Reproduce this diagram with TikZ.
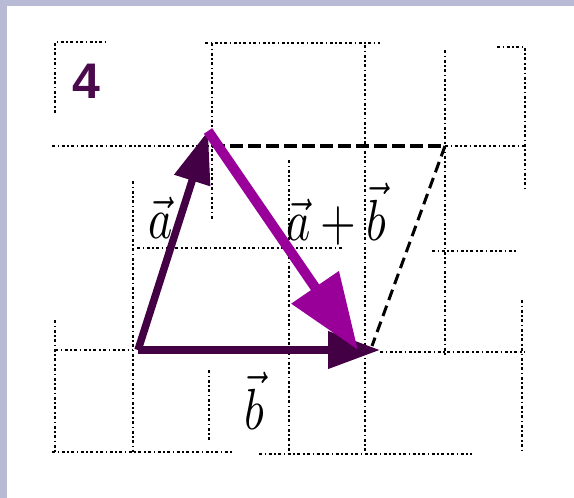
\documentclass[tikz,border=0pt]{standalone}
\usepackage{fontspec}
\newfontfamily\numfont{Liberation Sans}
\usetikzlibrary{arrows.meta}
\definecolor{lav}{RGB}{184,186,214}
\definecolor{dpurple}{RGB}{68,0,68}
\definecolor{mpurple}{RGB}{153,0,153}
\definecolor{numcol}{RGB}{75,10,75}
\tikzset{
  gridline/.style={line width=2pt, black, dash pattern=on 3pt off 2.5pt on 1.6pt off 2.5pt},
  heavydash/.style={line width=3.5pt, black, dash pattern=on 13pt off 5pt},
  vecdark/.style={line width=7.5pt, dpurple, -{Triangle[length=52pt,width=36pt]}},
  vecsum/.style={line width=10pt, mpurple, -{Triangle[length=76pt,width=55pt]}},
  mathlabel/.style={anchor=base west, inner sep=0pt}
}
\newcommand{\biglab}[1]{\scalebox{4.6}[5.8]{$#1$}}
\begin{document}
\begin{tikzpicture}[x=1pt,y=-1pt]
\useasboundingbox (0,0) rectangle (574,498);
\fill[white] (0,0) rectangle (574,498);
\fill[lav] (0,0) rectangle (574,6);
\fill[lav] (0,0) rectangle (7,498);
% grid
\draw[gridline] (55,113) -- (55,42) -- (105,42);
\draw[gridline] (205,43) -- (380,43);
\draw[gridline] (497,47) -- (525,47) -- (525,190);
\draw[gridline] (52,146) -- (212,146);
\draw[gridline] (445,146) -- (525,146);
\draw[gridline] (137,248) -- (342,248);
\draw[gridline] (432,251) -- (517,251);
\draw[gridline] (55,350) -- (133,350);
\draw[gridline] (380,352) -- (525,352);
\draw[gridline] (52,452) -- (232,452);
\draw[gridline] (259,454) -- (472,454);
\draw[gridline] (55,320) -- (55,452);
\draw[gridline] (133,181) -- (133,452);
\draw[gridline] (212,43) -- (212,220);
\draw[gridline] (209,370) -- (209,440);
\draw[gridline] (289,160) -- (289,452);
\draw[gridline] (365,45) -- (365,452);
\draw[gridline] (445,50) -- (445,355);
\draw[gridline] (522,300) -- (522,452);
% points
\coordinate (O) at (138,350);
\coordinate (A) at (208,131);
\coordinate (B) at (380,350);
\coordinate (S) at (358,350);
\coordinate (C) at (445,146);
\coordinate (D) at (372,346);
% dashed parallelogram sides
\draw[heavydash] (212,146) -- (C);
\draw[line width=3pt, black, dash pattern=on 11pt off 6pt] (C) -- (D);
% labels
\node[anchor=base west, inner sep=0pt, text=numcol, font=\numfont\bfseries\fontsize{50}{50}\selectfont] (num) at (72,98) {4};
\node[mathlabel] (la) at (148,238) {\biglab{\vec a}};
\node[mathlabel] (lab) at (286,240) {\biglab{\vec a+\vec b}};
\node[mathlabel] (lb) at (244,429) {\biglab{\vec b}};
% vectors
\draw[vecdark] (O) -- (A);
\draw[vecdark] (O) -- (B);
\draw[vecsum] (A) -- (S);
\end{tikzpicture}
\end{document}
